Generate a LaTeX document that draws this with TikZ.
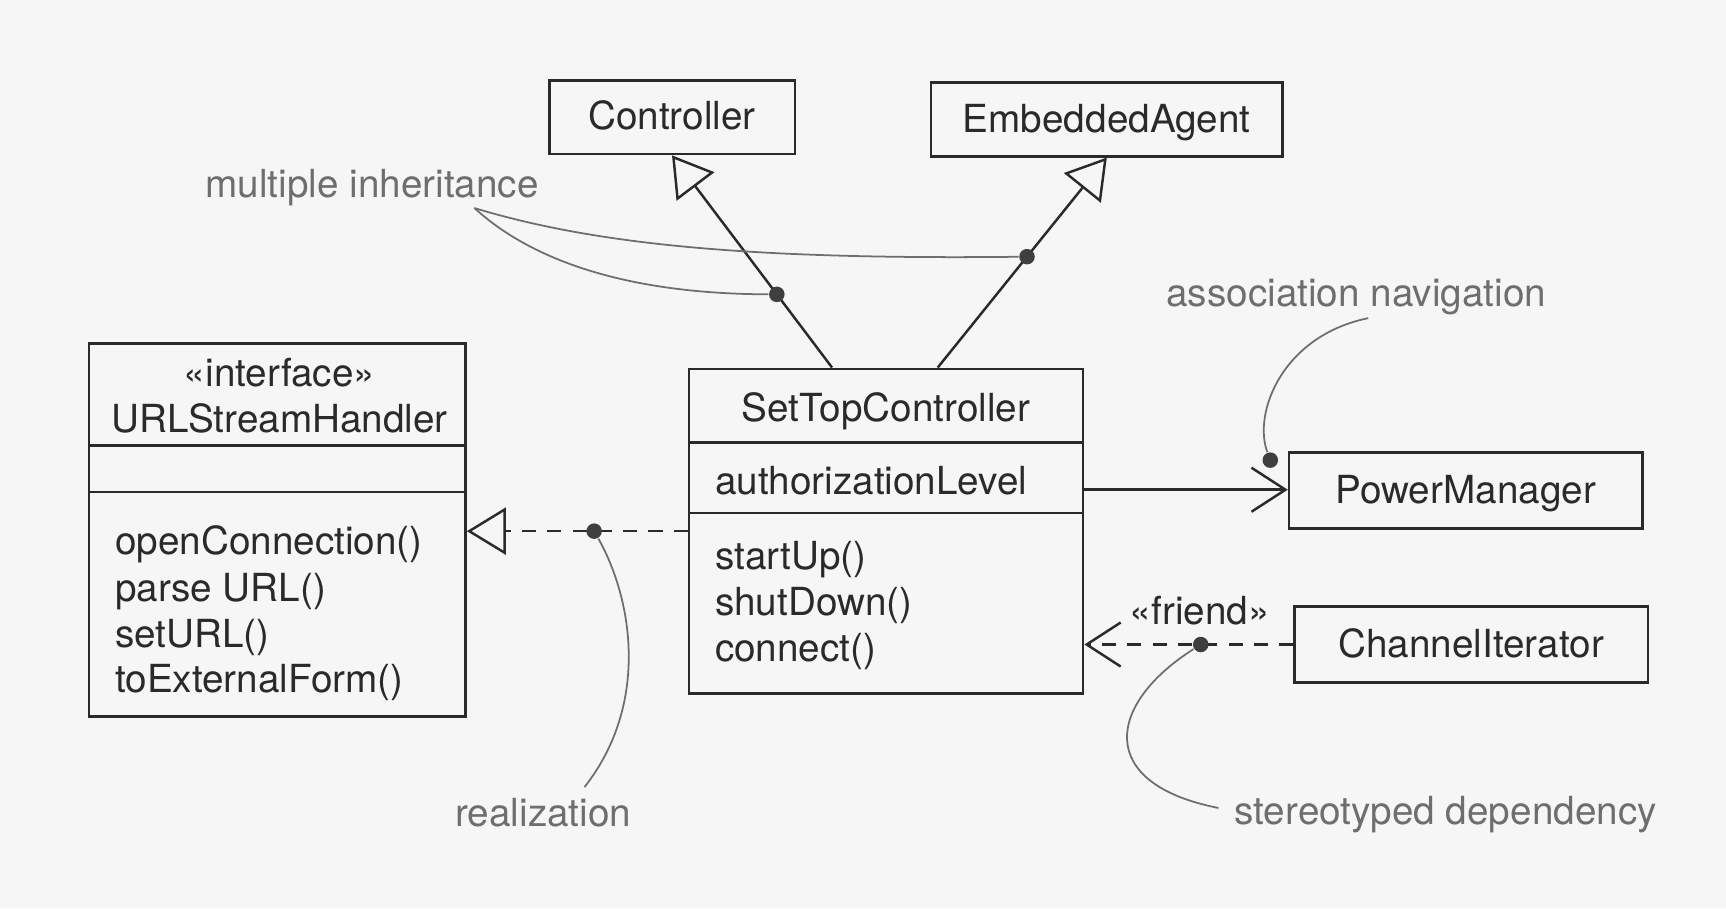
\documentclass[tikz,border=0pt]{standalone}
\usepackage{fontspec}
\setmainfont{TeX Gyre Heros}
\usetikzlibrary{arrows.meta,calc}
\definecolor{bg}{HTML}{F6F6F6}
\definecolor{ink}{HTML}{2A2A2A}
\definecolor{notec}{HTML}{6E6E6E}
\def\pxu{0.011008cm}
\tikzset{
  every node/.style={font=\fontsize{11}{13}\selectfont, text=ink},
  box/.style={draw=ink, line width=0.7pt, inner sep=0pt, text height=0.72em, text depth=0pt},
  lblw/.style={inner sep=0pt, anchor=base west},
  lblc/.style={inner sep=0pt, anchor=base},
  notetext/.style={inner sep=0pt, anchor=base west, text=notec},
  gen/.style={draw=ink, line width=0.7pt, -{Triangle[open, length=0.39cm, width=0.47cm, line width=0.7pt]}},
  real/.style={gen, dash pattern=on 4pt off 3.2pt},
  assoc/.style={draw=ink, line width=0.7pt, -{Straight Barb[length=0.34cm, width=0.44cm, line width=0.7pt]}},
  dep/.style={assoc, dash pattern=on 4pt off 3.2pt},
  dot/.style={circle, fill=ink!90, draw=none, inner sep=0pt, minimum size=0.155cm},
  noteline/.style={draw=notec, line width=0.5pt},
  divider/.style={draw=ink, line width=0.7pt}
}
\begin{document}
\begin{tikzpicture}[x=0.011008cm, y=-0.011008cm]
\fill[bg] (0,0) rectangle (1568,825);
\useasboundingbox (0,0) rectangle (1568,825);

% simple classes
\node[box, minimum width=223*\pxu, minimum height=67*\pxu] (ctrl) at (610.5,106.5) {Controller};
\node[box, minimum width=319*\pxu, minimum height=67*\pxu] (emb) at (1005.5,108.5) {EmbeddedAgent};
\node[box, minimum width=321*\pxu, minimum height=69*\pxu] (pm) at (1331.5,445.5) {PowerManager};
\node[box, minimum width=321*\pxu, minimum height=69*\pxu] (ci) at (1336.5,585.5) {ChannelIterator};

% URLStreamHandler
\node[box, minimum width=342*\pxu, minimum height=339*\pxu] (ush) at (252,481.5) {};
\draw[divider] ($(ush.north west)+(0,94)$) -- ($(ush.north east)+(0,94)$);
\draw[divider] ($(ush.north west)+(0,136)$) -- ($(ush.north east)+(0,136)$);
\node[lblc] (ushs) at (254,351) {«interface»};
\node[lblc] (ushn) at (254,393) {URLStreamHandler};
\node[lblw] (ush1) at (104,504) {openConnection()};
\node[lblw] (ush2) at (104,546) {parse URL()};
\node[lblw] (ush3) at (104,588) {setURL()};
\node[lblw] (ush4) at (104,629) {toExternalForm()};

% SetTopController
\node[box, minimum width=358*\pxu, minimum height=295*\pxu] (stc) at (805,482.5) {};
\draw[divider] ($(stc.north west)+(0,68)$) -- ($(stc.north east)+(0,68)$);
\draw[divider] ($(stc.north west)+(0,132)$) -- ($(stc.north east)+(0,132)$);
\node[lblc] (stcn) at (805,383) {SetTopController};
\node[lblw] (stca) at (649,449) {authorizationLevel};
\node[lblw] (stc1) at (649,517) {startUp()};
\node[lblw] (stc2) at (649,559) {shutDown()};
\node[lblw] (stc3) at (649,601) {connect()};

% generalizations
\coordinate (g1s) at ($(stc.north west)+(131,0)$);
\coordinate (g2s) at ($(stc.north west)+(227,0)$);
\draw[gen] (g1s) -- (ctrl.south);
\draw[gen] (g2s) -- (emb.south);
\node[dot] (d1) at ($(g1s)!0.345!(ctrl.south)$) {};
\node[dot] (d2) at ($(g2s)!0.528!(emb.south)$) {};

% realization
\draw[real] (stc.west) -- (stc.west -| ush.east);
\node[dot] (rd) at ($(stc.west)!0.424!(stc.west -| ush.east)$) {};

% association
\coordinate (as) at ($(stc.north east)+(0,111)$);
\draw[assoc] (as) -- (as -| pm.west);
\node[dot] (ad) at (1154,418) {};

% dependency
\draw[dep] (ci.west) -- (ci.west -| stc.east);
\node[dot] (dd) at ($(ci.west)!0.443!(ci.west -| stc.east)$) {};
\node[lblc] (fr) at (1090,567) {«friend»};

% notes
\node[notetext] (mi) at (186,179) {multiple inheritance};
\coordinate (miA) at (431,189);
\draw[noteline] (miA) .. controls (540,222) and (680,236) .. (d2);
\draw[noteline] (miA) .. controls (478,232) and (560,267) .. (d1);

\node[notetext] (an) at (1059,278) {association navigation};
\coordinate (anA) at (1243,289);
\draw[noteline] (anA) .. controls (1165,305) and (1138,375) .. (ad);

\node[notetext] (rl) at (413,751) {realization};
\coordinate (rlA) at (531,715);
\draw[noteline] (rd) .. controls (575,545) and (590,640) .. (rlA);

\node[notetext] (sd) at (1121,749) {stereotyped dependency};
\coordinate (sdA) at (1107,734);
\draw[noteline] (dd) .. controls (1005,640) and (995,712) .. (sdA);
\end{tikzpicture}
\end{document}
